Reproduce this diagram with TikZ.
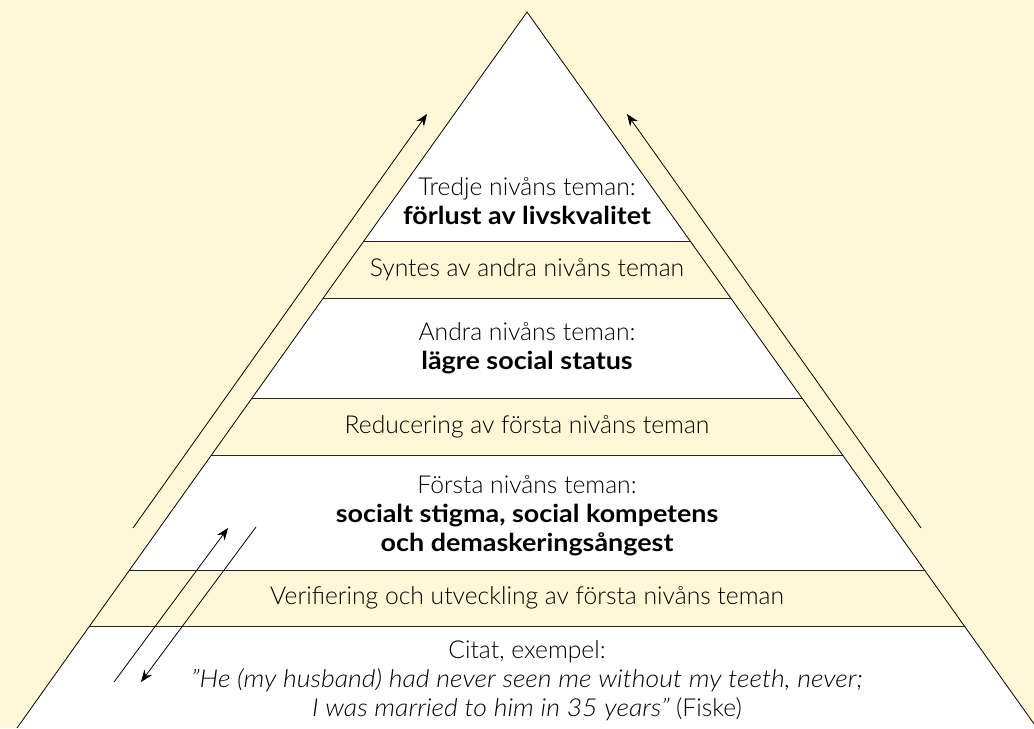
\documentclass[tikz,border=0pt]{standalone}
\usepackage{fontspec}
\setmainfont{Lato Light}[BoldFont={Lato Bold},BoldFeatures={FakeStretch=1.09},ItalicFont={Lato Light Italic},ItalicFeatures={FakeStretch=1.08}]
\usetikzlibrary{arrows.meta}
\definecolor{cream}{HTML}{FFF7D6}

\begin{document}
\begin{tikzpicture}[x=0.75pt,y=-0.75pt,>={Stealth[length=9pt,width=7pt]},line width=0.6pt,
	level text/.style={align=center,font=\fontsize{18.5}{21.75}\selectfont,inner sep=0pt},
	band/.style={fill=cream,draw=black!85}]
	\fill[cream] (0,0) rectangle (1034,728);
	\useasboundingbox (0,0) rectangle (1034,728);
	\coordinate (top) at (527,12);
	\coordinate (bl) at (17,728);
	\coordinate (br) at (1037,728);
	\fill[white] (top) -- (bl) -- (br) -- cycle;
	\begin{scope}
		\clip (top) -- (bl) -- (br) -- cycle;
		\foreach \a/\b in {241/298,398/455,570/626}
			\draw[band] (-10,\a) rectangle (1044,\b);
	\end{scope}
	\draw (bl) -- (top) -- (br);

	\node[level text] (3) at (527,201) {Tredje nivåns teman:\\\textbf{förlust av livskvalitet}};
	\node[level text] (s2) at (527,270) {Syntes av andra nivåns teman};
	\node[level text] (2) at (527,348) {Andra nivåns teman:\\\textbf{lägre social status}};
	\node[level text] (r1) at (527,427) {Reducering av första nivåns teman};
	\node[level text] (1) at (527,516) {Första nivåns teman:\\\textbf{socialt stigma, social kompetens}\\\textbf{och demaskeringsångest}};
	\node[level text] (v1) at (527,598) {Verifiering och utveckling av första nivåns teman};
	\node[level text] (c) at (527,681) {Citat, exempel:\\\textit{"He (my husband) had never seen me without my teeth, never;}\\\textit{I was married to him in 35 years"} (Fiske)};

	% upp genom pyramiden
	\coordinate (la) at (133,528);
	\coordinate (lb) at (427,114);
	\coordinate (ra) at (921,528);
	\coordinate (rb) at (627,114);
	\draw[->] (la) -- (lb);
	\draw[->] (ra) -- (rb);
	% fram och tillbaka
	\coordinate (ua) at (114,682);
	\coordinate (ub) at (228,528);
	\coordinate (da) at (256,527);
	\coordinate (db) at (141,682);
	\draw[->] (ua) -- (ub);
	\draw[->] (da) -- (db);
\end{tikzpicture}
\end{document}
